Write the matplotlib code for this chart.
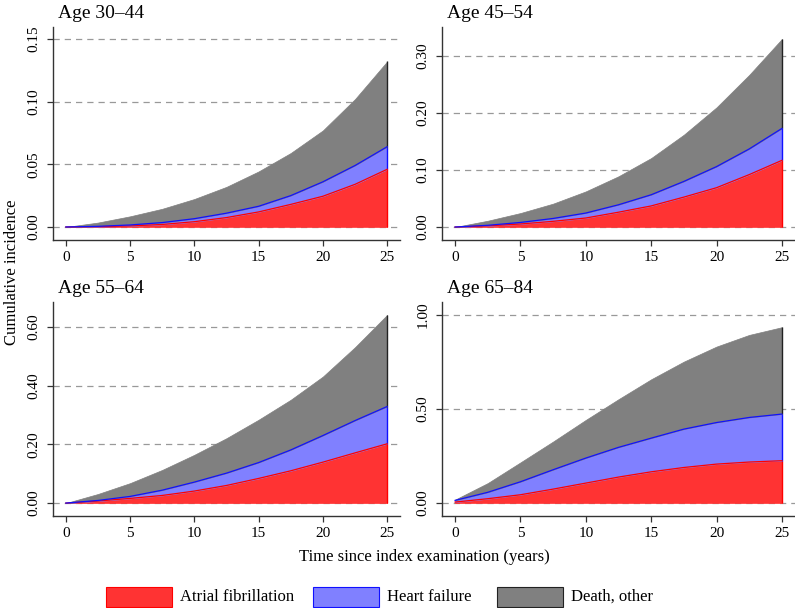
import numpy as np
import matplotlib
matplotlib.use('Agg')
import matplotlib.pyplot as plt
from matplotlib.patches import Rectangle

plt.rcParams['font.family'] = ['Liberation Serif', 'DejaVu Serif']

# years since index examination
years = [0, 2.5, 5, 7.5, 10, 12.5, 15, 17.5, 20, 22.5, 25]

titles = ['Age 30–44', 'Age 45–54', 'Age 55–64', 'Age 65–84']

# stacked boundaries: AF, AF + heart failure, AF + HF + death (other)
af = [
    [0, 0.0002, 0.0008, 0.002, 0.0042, 0.0075, 0.012, 0.018, 0.0245, 0.034, 0.046],
    [0, 0.002, 0.0053, 0.010, 0.0158, 0.026, 0.037, 0.0525, 0.069, 0.092, 0.117],
    [0, 0.007, 0.016, 0.026, 0.041, 0.060, 0.084, 0.110, 0.1395, 0.171, 0.202],
    [0.005, 0.023, 0.044, 0.074, 0.106, 0.138, 0.166, 0.189, 0.207, 0.218, 0.225],
]
af_hf = [
    [0, 0.0005, 0.0016, 0.0035, 0.0066, 0.011, 0.0165, 0.025, 0.036, 0.049, 0.064],
    [0, 0.003, 0.008, 0.015, 0.0245, 0.039, 0.0566, 0.080, 0.106, 0.137, 0.173],
    [0, 0.009, 0.0227, 0.044, 0.0715, 0.102, 0.138, 0.181, 0.230, 0.281, 0.329],
    [0.014, 0.057, 0.113, 0.177, 0.239, 0.296, 0.345, 0.393, 0.428, 0.455, 0.473],
]
total = [
    [0, 0.0035, 0.0085, 0.0145, 0.0223, 0.032, 0.0443, 0.059, 0.077, 0.102, 0.132],
    [0, 0.011, 0.0245, 0.041, 0.0625, 0.089, 0.121, 0.162, 0.210, 0.267, 0.330],
    [0, 0.031, 0.068, 0.113, 0.1645, 0.221, 0.284, 0.352, 0.431, 0.531, 0.641],
    [0.018, 0.106, 0.216, 0.327, 0.442, 0.552, 0.658, 0.752, 0.832, 0.894, 0.935],
]

yticks = [
    [0, 0.05, 0.10, 0.15],
    [0, 0.10, 0.20, 0.30],
    [0, 0.20, 0.40, 0.60],
    [0, 0.50, 1.00],
]
ylims = [(-0.0104, 0.1595), (-0.0228, 0.351), (-0.044, 0.685), (-0.069, 1.069)]

labels = ['Atrial fibrillation', 'Heart failure', 'Death, other']
fills = ['#FF3333', '#8080FF', '#808080']
edges = ['#FF0000', '#1010FF', '#222222']

W, H = 795, 608
fig = plt.figure(figsize=(W / 100, H / 100), dpi=100)

# axes boxes in pixels: left, top, right, bottom
boxes = [(53, 27, 400, 240), (442, 27, 795, 240),
         (53, 302, 400, 516), (442, 302, 795, 516)]

for i, (l, t, r, b) in enumerate(boxes):
    ax = fig.add_axes([l / W, 1 - b / H, (r - l) / W, (b - t) / H])
    x = np.array(years)
    lo = np.zeros(len(x))
    tops = [np.array(af[i]), np.array(af_hf[i]), np.array(total[i])]
    for k in range(3):
        ax.fill_between(x, lo, tops[k], facecolor=fills[k], edgecolor=fills[k],
                        linewidth=0.5, zorder=2)
        ax.vlines(x[-1], lo[-1], tops[k][-1], color=edges[k], lw=1.0, zorder=3)
        lo = tops[k]
    # outline of the AF and HF bands
    ax.plot(x, tops[0], color=edges[0], lw=0.9, zorder=3)
    ax.plot(x, tops[1], color=edges[1], lw=0.9, zorder=3)
    ax.set_xlim(-1, 26)
    ax.set_ylim(*ylims[i])
    ax.set_xticks([0, 5, 10, 15, 20, 25])
    ax.set_yticks(yticks[i])
    ax.set_yticklabels(['%.2f' % v for v in yticks[i]], rotation=90, va='center')
    for v in yticks[i]:
        ax.axhline(v, color='#999999', lw=0.9, ls=(0, (5, 4)), zorder=1)
    for s in ['top', 'right']:
        ax.spines[s].set_visible(False)
    for s in ['left', 'bottom']:
        ax.spines[s].set_color('#333333')
        ax.spines[s].set_linewidth(1.0)
    ax.tick_params(direction='out', length=4, width=0.9, color='#333333',
                   labelsize=11, pad=4)
    ax.tick_params(axis='y', pad=5)
    ax.text(5 / (r - l), 1 + 9 / (b - t), titles[i], transform=ax.transAxes,
            fontsize=14, ha='left', va='baseline')

fig.text(12 / W, 1 - 272 / H, 'Cumulative incidence', rotation=90,
         ha='center', va='center', fontsize=12)
fig.text(424 / W, 1 - 557 / H, 'Time since index examination (years)',
         ha='center', va='center', fontsize=12)

# legend
box_x = [106, 313, 497]
for k in range(3):
    fig.patches.append(Rectangle((box_x[k] / W, 1 - 607 / H), 66 / W, 20 / H,
                                 transform=fig.transFigure, facecolor=fills[k],
                                 edgecolor=edges[k], linewidth=0.8))
    fig.text((box_x[k] + 74) / W, 1 - 597 / H, labels[k], ha='left',
             va='center', fontsize=12)

fig.savefig('out.png', dpi=100)
